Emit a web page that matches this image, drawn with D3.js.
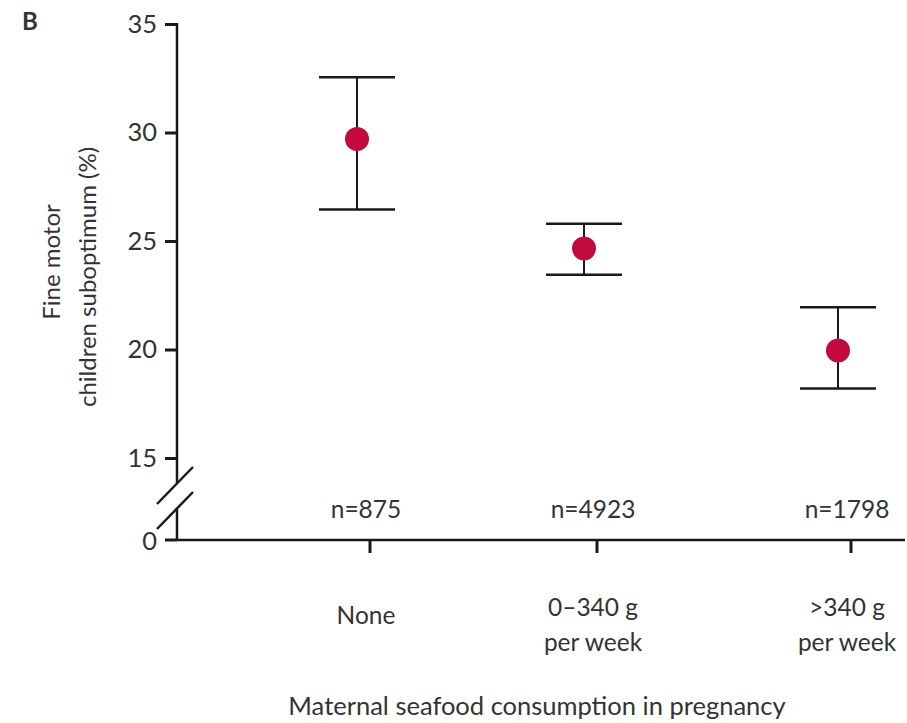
<!DOCTYPE html>
<html>
<head>
<meta charset="utf-8">
<script src="https://cdn.jsdelivr.net/npm/d3@7"></script>
<style>
  body { margin: 0; background: #fff; }
  text { font-family: Lato, "Open Sans", sans-serif; fill: #333; }
</style>
</head>
<body>
<div id="chart"></div>
<script>
// data
const categories = ["None", "0–340 g|per week", ">340 g|per week"];
const nLabels = ["n=875", "n=4923", "n=1798"];
const estimates = [29.7, 24.65, 19.95];
const lowerCI = [26.45, 23.45, 18.2];
const upperCI = [32.55, 25.8, 21.95];
const yTicks = [15, 20, 25, 30, 35];

const width = 907, height = 723;

const svg = d3.select("#chart").append("svg")
    .attr("width", width)
    .attr("height", height);

const axisX0 = 177, baseY = 540;

let y = d3.scaleLinear()
    .domain([15, 35])
    .range([458, 24]);
let x = d3.scaleOrdinal()
    .domain(categories)
    .range([370, 597, 851]);

const pointShift = -13; // points sit a bit left of the tick marks in the original

// y axis (broken)
let yAxis = g => g
    .attr("transform", `translate(${axisX0},0)`)
    .call(d3.axisLeft(y).tickValues(yTicks).tickSize(12).tickPadding(8))
    .call(g => g.select(".domain").remove())
    .call(g => g.selectAll(".tick line").attr("stroke", "#1a1a1a").attr("stroke-width", 3))
    .call(g => g.selectAll(".tick text").style("font-size", "25.5px").attr("fill", "#333"));

svg.append("g").call(yAxis);

// axis line with a gap for the break
svg.append("line")
    .attr("x1", axisX0).attr("x2", axisX0)
    .attr("y1", y(35) - 1).attr("y2", 483)
    .attr("stroke", "#1a1a1a").attr("stroke-width", 2.5);
svg.append("line")
    .attr("x1", axisX0).attr("x2", axisX0)
    .attr("y1", 508).attr("y2", baseY)
    .attr("stroke", "#1a1a1a").attr("stroke-width", 2.5);
// break slashes
[[157, 504, 193, 467], [157, 529, 193, 492]].forEach(s => {
  svg.append("line")
    .attr("x1", s[0]).attr("y1", s[1]).attr("x2", s[2]).attr("y2", s[3])
    .attr("stroke", "#1a1a1a").attr("stroke-width", 2.5);
});
// zero tick
svg.append("line")
    .attr("x1", axisX0 - 12).attr("x2", axisX0)
    .attr("y1", baseY).attr("y2", baseY)
    .attr("stroke", "#1a1a1a").attr("stroke-width", 3);
svg.append("text")
    .attr("x", axisX0 - 20).attr("y", baseY)
    .attr("text-anchor", "end")
    .attr("dominant-baseline", "central")
    .style("font-size", "25.5px")
    .text("0");

// x axis
svg.append("line")
    .attr("x1", axisX0).attr("x2", 905)
    .attr("y1", baseY).attr("y2", baseY)
    .attr("stroke", "#1a1a1a").attr("stroke-width", 2.5);
svg.append("g").selectAll("line")
  .data(categories)
  .join("line")
    .attr("x1", d => x(d)).attr("x2", d => x(d))
    .attr("y1", baseY).attr("y2", baseY + 13)
    .attr("stroke", "#1a1a1a").attr("stroke-width", 3);

// category labels
const catText = svg.append("g").selectAll("text")
  .data(categories)
  .join("text")
    .attr("x", d => x(d) - 4)
    .attr("y", d => d.includes("|") ? 616 : 624)
    .attr("text-anchor", "middle")
    .style("font-size", "24.5px");
catText.each(function (d) {
  const parts = d.split("|");
  d3.select(this).selectAll("tspan")
    .data(parts)
    .join("tspan")
      .attr("x", x(d) - 4)
      .attr("dy", (p, i) => i === 0 ? 0 : 35)
      .text(p => p);
});

// n labels
svg.append("g").selectAll("text")
  .data(nLabels)
  .join("text")
    .attr("x", (d, i) => x(categories[i]) - 4)
    .attr("y", 518)
    .attr("text-anchor", "middle")
    .style("font-size", "24.5px")
    .text(d => d);

// error bars
const cap = 38;
const bars = svg.append("g");
categories.forEach((c, i) => {
  const cx = x(c) + pointShift;
  bars.append("line")
    .attr("x1", cx).attr("x2", cx)
    .attr("y1", y(upperCI[i])).attr("y2", y(lowerCI[i]))
    .attr("stroke", "#1a1a1a").attr("stroke-width", 2);
  [upperCI[i], lowerCI[i]].forEach(v => {
    bars.append("line")
      .attr("x1", cx - cap).attr("x2", cx + cap)
      .attr("y1", y(v)).attr("y2", y(v))
      .attr("stroke", "#1a1a1a").attr("stroke-width", 2.5);
  });
});

// point estimates
svg.append("g").selectAll("circle")
  .data(estimates)
  .join("circle")
    .attr("cx", (d, i) => x(categories[i]) + pointShift)
    .attr("cy", d => y(d))
    .attr("r", 12)
    .attr("fill", "#c20a3e");

// y label
const yl = svg.append("text")
    .attr("transform", "rotate(-90)")
    .attr("text-anchor", "middle")
    .style("font-size", "24px");
yl.append("tspan").attr("x", -262).attr("y", 60).text("Fine motor");
yl.append("tspan").attr("x", -277).attr("y", 96).text("children suboptimum (%)");

// x title
svg.append("text")
    .attr("x", 537).attr("y", 715)
    .attr("text-anchor", "middle")
    .style("font-size", "25.5px")
    .text("Maternal seafood consumption in pregnancy");

// panel letter
svg.append("text")
    .attr("x", 22).attr("y", 30)
    .style("font-size", "24px")
    .style("font-weight", "bold")
    .text("B");
</script>
</body>
</html>
